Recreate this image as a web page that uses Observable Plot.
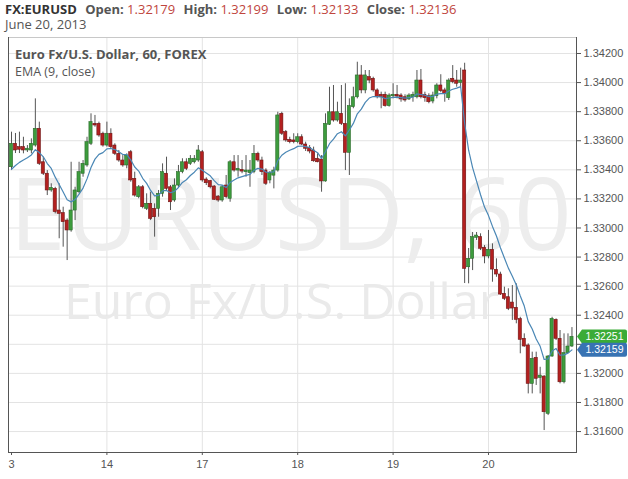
<!DOCTYPE html>
<html><head><meta charset="utf-8">
<script src="https://cdn.jsdelivr.net/npm/d3@7"></script>
<script src="https://cdn.jsdelivr.net/npm/@observablehq/plot@0.6"></script>
<style>
body{margin:0;background:#fff;}
#wrap{position:relative;width:628px;height:479px;overflow:hidden;font-family:"Open Sans",sans-serif;}
#hdr{position:absolute;left:5px;top:1px;font-size:13px;line-height:17px;color:#555;white-space:nowrap;}
#hdr b{font-weight:700;}
#hdr .sym{color:#333;margin-right:5px;}
#hdr .v{color:#c0453d;margin-right:5px;}
#date{position:absolute;left:5px;top:17px;font-size:13px;line-height:15px;color:#555;}
#legend{position:absolute;left:15px;top:45px;color:#555;}
#legend .t{font-size:13px;font-weight:700;line-height:18px;}
#legend .e{font-size:12.5px;line-height:18px;}
#chart{position:absolute;left:0;top:0;}
</style></head>
<body>
<div id="wrap">
<div id="chart"></div>
<div id="hdr"><b class="sym">FX:EURUSD</b> <b>Open:</b> <span class="v">1.32179</span> <b>High:</b> <span class="v">1.32199</span> <b>Low:</b> <span class="v">1.32133</span> <b>Close:</b> <span class="v">1.32136</span></div>
<div id="date">June 20, 2013</div>
<div id="legend"><div class="t">Euro Fx/U.S. Dollar, 60, FOREX</div><div class="e">EMA (9, close)</div></div>
</div>
<script>
// Hourly candles, index 0 = June 13 00:00
const open = [1.33418,1.33579,1.33556,1.33556,1.33533,1.33533,1.33567,1.33682,1.33452,1.33373,
1.33258,1.33269,1.33120,1.33102,1.33051,1.32983,1.33120,1.33246,1.33373,1.33430,
1.33579,1.33716,1.33716,1.33648,1.33567,1.33648,1.33567,1.33510,1.33464,1.33430,
1.33521,1.33338,1.33212,1.33280,1.33132,1.33166,1.33132,1.33132,1.33235,1.33373,
1.33280,1.33189,1.33292,1.33384,1.33452,1.33441,1.33452,1.33464,1.33521,1.33333,
1.33322,1.33285,1.33216,1.33189,1.33292,1.33201,1.33452,1.33395,1.33400,1.33384,
1.33377,1.33384,1.33510,1.33464,1.33395,1.33327,1.33360,1.33395,1.33785,1.33659,
1.33606,1.33602,1.33590,1.33624,1.33574,1.33549,1.33533,1.33476,1.33471,1.33320,
1.33710,1.33796,1.33739,1.33785,1.33716,1.33517,1.33831,1.33899,1.34049,1.33946,
1.34037,1.34026,1.33946,1.33916,1.33916,1.33838,1.33906,1.33916,1.33911,1.33899,
1.33884,1.33899,1.33899,1.34014,1.33916,1.33906,1.33870,1.33906,1.33980,1.33946,
1.33893,1.34026,1.34014,1.33998,1.34083,1.32730,1.32788,1.32932,1.32937,1.32864,
1.32804,1.32850,1.32712,1.32680,1.32547,1.32524,1.32487,1.32451,1.32373,1.32238,
1.32192,1.31928,1.32107,1.31969,1.31978,1.31722,1.32116,1.32368,1.32238,1.31939,
1.32139,1.32185];
const high = [1.33659,1.33650,1.33659,1.33624,1.33567,1.33613,1.33888,1.33728,1.33487,1.33395,
1.33304,1.33280,1.33304,1.33143,1.33063,1.33452,1.33280,1.33452,1.33464,1.33624,
1.33785,1.33774,1.33728,1.33659,1.33728,1.33682,1.33579,1.33533,1.33498,1.33510,
1.33533,1.33384,1.33292,1.33292,1.33235,1.33246,1.33166,1.33258,1.33441,1.33487,
1.33292,1.33338,1.33430,1.33476,1.33476,1.33498,1.33498,1.33567,1.33533,1.33345,
1.33327,1.33292,1.33223,1.33292,1.33361,1.33464,1.33498,1.33498,1.33464,1.33498,
1.33464,1.33567,1.33521,1.33487,1.33407,1.33388,1.33418,1.33796,1.33796,1.33670,
1.33624,1.33648,1.33648,1.33641,1.33590,1.33567,1.33556,1.33510,1.33498,1.33785,
1.33968,1.33980,1.33865,1.33980,1.33992,1.33888,1.33968,1.34140,1.34117,1.34083,
1.34083,1.34037,1.33957,1.33934,1.33934,1.33923,1.33992,1.33980,1.33923,1.33916,
1.33923,1.33934,1.34083,1.34090,1.33934,1.33923,1.33934,1.33992,1.34054,1.33961,
1.34026,1.34117,1.34083,1.34099,1.34133,1.32859,1.32969,1.32969,1.32960,1.32879,
1.32983,1.32891,1.32788,1.32696,1.32593,1.32582,1.32604,1.32616,1.32386,1.32272,
1.32203,1.32146,1.32146,1.32042,1.31985,1.32123,1.32386,1.32375,1.32295,1.32272,
1.32272,1.32315];
const low = [1.33395,1.33512,1.33512,1.33510,1.33519,1.33510,1.33556,1.33430,1.33361,1.33223,
1.33246,1.33097,1.32926,1.32868,1.32776,1.32971,1.33051,1.33235,1.33349,1.33418,
1.33567,1.33693,1.33624,1.33556,1.33556,1.33545,1.33498,1.33452,1.33418,1.33407,
1.33315,1.33212,1.33201,1.33132,1.33120,1.33051,1.32937,1.33074,1.33212,1.33258,
1.33120,1.33177,1.33280,1.33373,1.33395,1.33430,1.33441,1.33452,1.33315,1.33292,
1.33269,1.33189,1.33177,1.33177,1.33201,1.33177,1.33384,1.33349,1.33373,1.33349,
1.33280,1.33373,1.33452,1.33361,1.33292,1.33304,1.33269,1.33384,1.33636,1.33590,
1.33579,1.33579,1.33579,1.33567,1.33526,1.33510,1.33452,1.33448,1.33246,1.33315,
1.33705,1.33728,1.33728,1.33705,1.33395,1.33361,1.33820,1.33888,1.33923,1.33923,
1.33992,1.33934,1.33888,1.33820,1.33831,1.33831,1.33888,1.33888,1.33865,1.33865,
1.33877,1.33865,1.33888,1.33888,1.33865,1.33854,1.33854,1.33888,1.33930,1.33865,
1.33877,1.33992,1.33968,1.33968,1.32618,1.32616,1.32707,1.32914,1.32845,1.32754,
1.32788,1.32627,1.32661,1.32536,1.32501,1.32432,1.32364,1.32341,1.32135,1.32180,
1.31859,1.31859,1.31917,1.31859,1.31607,1.31710,1.32111,1.32226,1.31928,1.31928,
1.32135,1.32178];
const close = [1.33579,1.33533,1.33538,1.33533,1.33545,1.33579,1.33682,1.33441,1.33373,1.33258,
1.33276,1.33109,1.33097,1.33040,1.32983,1.33120,1.33258,1.33384,1.33441,1.33590,
1.33728,1.33705,1.33636,1.33567,1.33648,1.33556,1.33510,1.33464,1.33430,1.33498,
1.33327,1.33223,1.33280,1.33143,1.33166,1.33063,1.33074,1.33235,1.33384,1.33269,
1.33177,1.33292,1.33384,1.33452,1.33407,1.33476,1.33476,1.33533,1.33327,1.33308,
1.33280,1.33194,1.33189,1.33280,1.33212,1.33452,1.33395,1.33407,1.33388,1.33395,
1.33395,1.33510,1.33464,1.33384,1.33304,1.33377,1.33395,1.33774,1.33648,1.33602,
1.33590,1.33590,1.33624,1.33574,1.33545,1.33526,1.33459,1.33452,1.33320,1.33716,
1.33796,1.33739,1.33796,1.33716,1.33517,1.33838,1.33899,1.34049,1.33946,1.34049,
1.34014,1.33946,1.33899,1.33899,1.33838,1.33911,1.33916,1.33904,1.33884,1.33877,
1.33911,1.33916,1.34014,1.33899,1.33893,1.33865,1.33911,1.33980,1.33941,1.33923,
1.34014,1.34003,1.33992,1.34014,1.32719,1.32788,1.32937,1.32948,1.32857,1.32804,
1.32850,1.32714,1.32680,1.32542,1.32513,1.32444,1.32446,1.32368,1.32231,1.32185,
1.31928,1.32100,1.31963,1.31985,1.31733,1.32116,1.32375,1.32238,1.31939,1.32139,
1.32185,1.32251];
const emaPrev = 1.33360;          // EMA value just before the first visible candle
const emaLast = 1.32159;          // blue price tag
const lastPrice = 1.32251;        // green price tag
const dayStarts = [0, 24, 48, 72, 96, 120];   // June 13, 14, 17, 18, 19, 20
const dayLabels = ["3", "14", "17", "18", "19", "20"]; // first label is cut to "3" in the original
const yTicks = [1.316,1.318,1.320,1.322,1.324,1.326,1.328,1.330,1.332,1.334,1.336,1.338,1.340,1.342];

const UP = "#3d9c3d", DOWN = "#b3201f";
const rows = close.map((c, i) => ({i, o: open[i], h: high[i], l: low[i], c, up: c >= open[i]}));
let e = emaPrev;
rows.forEach(r => { e = e + (r.c - e) * 2 / 10; r.ema = e; });
const labelOf = new Map(dayStarts.map((d, k) => [d, dayLabels[k]]));

const chart = Plot.plot({
  width: 628, height: 479,
  marginTop: 37, marginBottom: 27, marginLeft: 8, marginRight: 52,
  style: {fontFamily: "'Liberation Sans', Arial, sans-serif", background: "transparent"},
  x: {domain: [-0.755, 142.14], axis: null, label: null},
  y: {domain: [1.31456, 1.3431], axis: null, label: null},
  marks: [
    Plot.ruleY(yTicks, {stroke: "#e3e3e3"}),
    Plot.ruleX(dayStarts.slice(1), {stroke: "#e3e3e3"}),
    Plot.text(["EURUSD, 60"], {frameAnchor: "middle", textAnchor: "middle", lineAnchor: "bottom", dx: -2, dy: 4.5, fontSize: 101, fill: "#ededed", fontFamily: "'Open Sans', sans-serif"}),
    Plot.text(["Euro Fx/U.S. Dollar"], {frameAnchor: "middle", textAnchor: "middle", lineAnchor: "bottom", dx: -11, dy: 73.5, fontSize: 50, fill: "#eaeaea", fontFamily: "'Open Sans', sans-serif"}),
    Plot.ruleX(rows, {x: "i", y1: "l", y2: "h", stroke: "#555", strokeWidth: 1}),
    Plot.rect(rows, {x1: d => d.i - 0.4, x2: d => d.i + 0.4, y1: "o", y2: "c",
      fill: d => d.up ? UP : DOWN, stroke: d => d.up ? "#2a6a2a" : "#6e1414", strokeWidth: 0.6}),
    Plot.line(rows, {x: "i", y: "ema", stroke: "#4a87b5", strokeWidth: 1.2}),
    Plot.frame({anchor: "top", stroke: "#c8c8c8"}),
    Plot.frame({anchor: "left", stroke: "#555"}),
    Plot.frame({anchor: "right", stroke: "#555"}),
    Plot.frame({anchor: "bottom", stroke: "#555"}),
    Plot.axisY(yTicks, {anchor: "right", label: null, tickSize: 4, tickPadding: 3, tickFormat: d3.format(".5f"), fontSize: 11, fill: "#555", stroke: "#555"}),
    Plot.axisX(dayStarts, {anchor: "bottom", label: null, tickSize: 3, tickPadding: 5, tickFormat: d => labelOf.get(d), fontSize: 11, fill: "#555", stroke: "#555"})
  ]
});
document.getElementById("chart").appendChild(chart);

const svg = d3.select(chart);
// drop Plot's developer warning glyph, if any
svg.selectAll("text").filter(function () { return /\u26a0/.test(this.textContent); }).remove();

// price tags in the right margin, positioned through the chart's y scale
const ys = chart.scale("y");
function tag(value, color) {
  const y = ys.apply(value);
  const x0 = 577, x1 = 627, h = 7;
  svg.append("path")
    .attr("d", `M${x0},${y} L${x0 + 5},${y - h} H${x1 - 2} Q${x1},${y - h} ${x1},${y - h + 2} V${y + h - 2} Q${x1},${y + h} ${x1 - 2},${y + h} H${x0 + 5} Z`)
    .attr("fill", color);
  svg.append("text").attr("x", (x0 + 5 + x1) / 2).attr("y", y).attr("dy", "0.35em")
    .attr("text-anchor", "middle").attr("fill", "#fff")
    .attr("font-family", "'Liberation Sans', Arial, sans-serif").attr("font-size", 10.5)
    .text(d3.format(".5f")(value));
}
tag(lastPrice, "#3aab37");
tag(emaLast, "#3873b3");
</script>
</body></html>
